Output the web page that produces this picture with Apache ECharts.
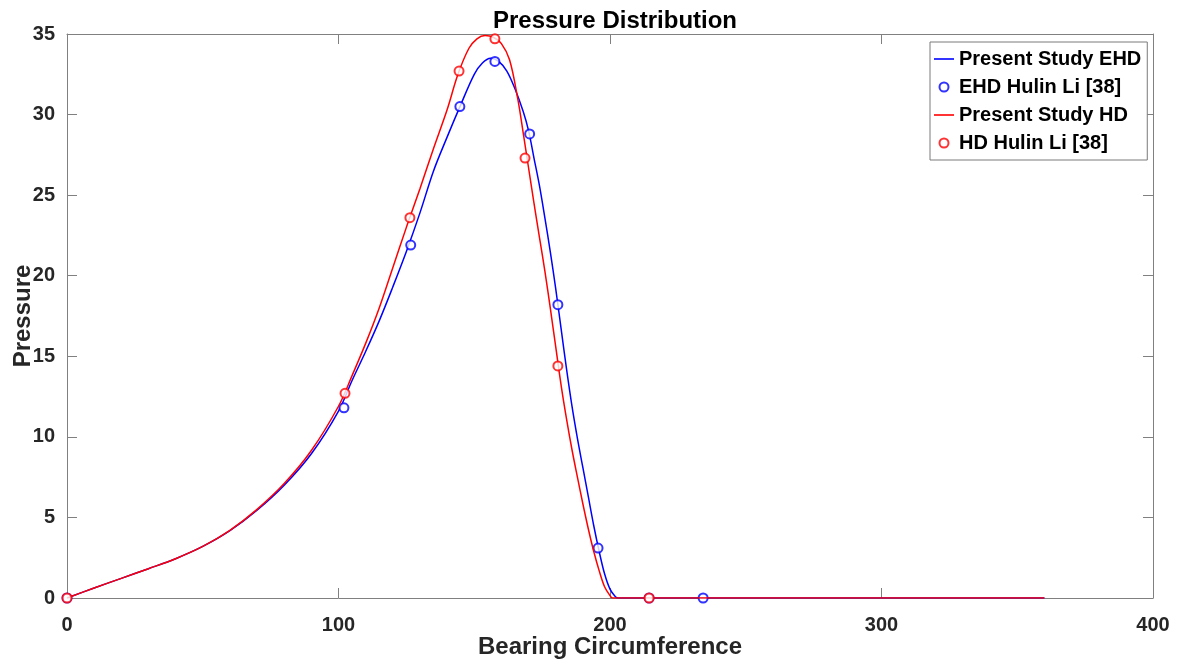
<!DOCTYPE html>
<html>
<head>
<meta charset="utf-8">
<script src="https://cdn.jsdelivr.net/npm/echarts@6/dist/echarts.min.js"></script>
<style>html,body{margin:0;padding:0;background:#fff}#c{width:1180px;height:661px}</style>
</head>
<body>
<div id="c"></div>
<script>
const titleText = 'Pressure Distribution';
const xName = 'Bearing Circumference';
const yName = 'Pressure';
const seriesNames = ['Present Study EHD', 'EHD Hulin Li [38]', 'Present Study HD', 'HD Hulin Li [38]'];

const ehdLineX = [0,10,20,30,40,50,60,70,80,90,100,105,110,115,120,125,130,135,140,145,150,153,156,159,162,165,168,170,172,174,176,178,180,182,184,186,188,190,192,194,196,198,200,202,203,250,300,360];
const ehdLineY = [0,0.62,1.22,1.82,2.44,3.2,4.18,5.45,7.0,8.95,11.6,13.5,15.3,17.2,19.3,21.5,23.9,26.5,28.6,30.6,32.5,33.2,33.5,33.3,32.7,31.6,30.2,29.0,27.3,25.6,23.6,21.5,19.2,16.7,14.2,11.9,9.9,8.1,6.3,4.5,2.9,1.5,0.55,0.08,0,0,0,0];

const hdLineX = [0,10,20,30,40,50,60,70,80,90,100,105,110,115,120,125,130,135,140,144,148,151,154,157,160,163,166,168,170,172,174,176,178,180,182,184,186,188,190,192,194,196,198,200,201,250,300,360];
const hdLineY = [0,0.62,1.22,1.82,2.44,3.2,4.2,5.5,7.1,9.15,11.9,13.8,15.8,18.0,20.5,23.0,25.4,27.9,30.3,32.5,34.1,34.7,34.9,34.8,34.4,33.4,31.0,28.9,26.7,24.5,22.4,20.3,18.0,15.6,13.2,11.1,9.2,7.5,5.85,4.3,2.9,1.7,0.7,0.15,0,0,0,0];

const ehdPtsX = [0,102,126.6,144.7,157.6,170.4,180.8,195.6,214.4,234.3];
const ehdPtsY = [0,11.8,21.9,30.5,33.3,28.8,18.2,3.1,0,0];
const hdPtsX = [0,102.4,126.3,144.4,157.6,168.7,180.8,214.4];
const hdPtsY = [0,12.7,23.6,32.7,34.7,27.3,14.4,0];

const xTicks = {min: 0, max: 400, interval: 100};
const yTicks = {min: 0, max: 35, interval: 5};

const zip = (xs, ys) => xs.map((x, i) => [x, ys[i]]);
const FONT = "'Liberation Sans', Arial, Helvetica, sans-serif";
const AX = '#808080';
const TXT = '#262626';
const LINE_ICON = 'path://M0,0 L20,0 L20,1.6 L0,1.6 Z';

const axisCommon = {
  axisLine: {show: true, onZero: false, lineStyle: {color: AX, width: 1}},
  axisTick: {show: true, inside: true, length: 10, lineStyle: {color: AX, width: 1}},
  splitLine: {show: false}
};

const chart = echarts.init(document.getElementById('c'), null, {renderer: 'canvas'});
chart.setOption({
  backgroundColor: '#fff',
  animation: false,
  title: {
    text: titleText, left: 610, textAlign: 'center', top: 4,
    textStyle: {fontFamily: FONT, fontSize: 24, fontWeight: 'bold', color: '#000'}
  },
  grid: {left: 67, right: 27, top: 34, bottom: 63, containLabel: false, outerBoundsMode: 'none'},
  legend: {
    left: 930, top: 42, orient: 'vertical',
    backgroundColor: '#fff', borderColor: '#7a7a7a', borderWidth: 1,
    padding: [7, 6, 7, 4], itemGap: 8, itemWidth: 20, itemHeight: 9,
    textStyle: {fontFamily: FONT, fontSize: 20, fontWeight: 'bold', color: '#000', lineHeight: 20},
    data: [
      {name: seriesNames[0], icon: LINE_ICON, itemStyle: {color: '#0000ff'}},
      {name: seriesNames[1]},
      {name: seriesNames[2], icon: LINE_ICON, itemStyle: {color: '#ff0000'}},
      {name: seriesNames[3]}
    ]
  },
  xAxis: [
    Object.assign({
      type: 'value', position: 'bottom', min: xTicks.min, max: xTicks.max, interval: xTicks.interval,
      name: xName, nameLocation: 'middle', nameGap: 37, nameMoveOverlap: false,
      nameTextStyle: {fontFamily: FONT, fontSize: 24, fontWeight: 'bold', color: TXT},
      axisLabel: {fontFamily: FONT, fontSize: 20, fontWeight: 'bold', color: TXT, margin: 17}
    }, axisCommon),
    Object.assign({
      type: 'value', position: 'top', min: xTicks.min, max: xTicks.max, interval: xTicks.interval,
      axisLabel: {show: false}
    }, axisCommon)
  ],
  yAxis: [
    Object.assign({
      type: 'value', position: 'left', min: yTicks.min, max: yTicks.max, interval: yTicks.interval,
      name: yName, nameLocation: 'middle', nameGap: 32, nameRotate: 90, nameMoveOverlap: false,
      nameTextStyle: {fontFamily: FONT, fontSize: 24, fontWeight: 'bold', color: TXT},
      axisLabel: {fontFamily: FONT, fontSize: 20, fontWeight: 'bold', color: TXT, margin: 12}
    }, axisCommon),
    Object.assign({
      type: 'value', position: 'right', min: yTicks.min, max: yTicks.max, interval: yTicks.interval,
      axisLabel: {show: false}
    }, axisCommon)
  ],
  series: [
    {
      name: seriesNames[0], type: 'line', data: zip(ehdLineX, ehdLineY),
      symbol: 'none', smooth: 0.35,
      lineStyle: {color: '#0000ff', width: 1.5}, itemStyle: {color: '#0000ff'}, z: 2
    },
    {
      name: seriesNames[1], type: 'scatter', data: zip(ehdPtsX, ehdPtsY),
      symbol: 'emptyCircle', symbolSize: 9,
      itemStyle: {color: '#0000ff', borderColor: '#0000ff', borderWidth: 1.2}, z: 3
    },
    {
      name: seriesNames[2], type: 'line', data: zip(hdLineX, hdLineY),
      symbol: 'none', smooth: 0.35,
      lineStyle: {color: '#ff0000', width: 1.5}, itemStyle: {color: '#ff0000'}, z: 4
    },
    {
      name: seriesNames[3], type: 'scatter', data: zip(hdPtsX, hdPtsY),
      symbol: 'emptyCircle', symbolSize: 9,
      itemStyle: {color: '#ff0000', borderColor: '#ff0000', borderWidth: 1.2}, z: 5
    }
  ]
});
</script>
</body>
</html>
